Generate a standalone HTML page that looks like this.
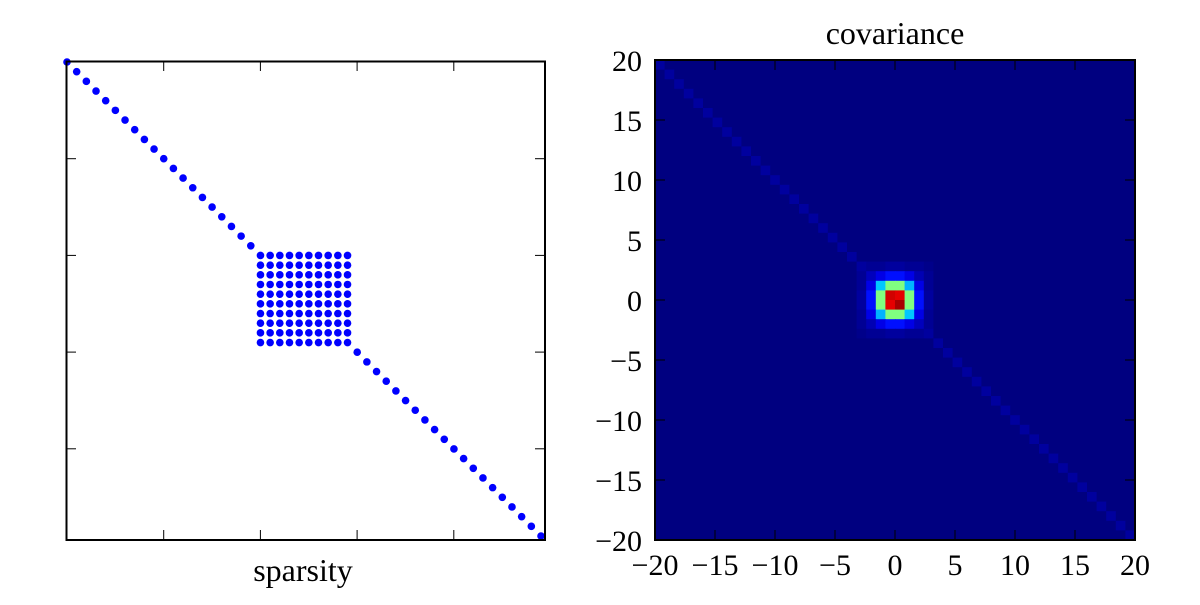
<!DOCTYPE html>
<html><head><meta charset="utf-8"><style>
body{margin:0;background:#fff;}
svg text{font-family:"Liberation Serif",serif;fill:#000;}
</style></head><body>
<svg id="fig" width="1200" height="600" xmlns="http://www.w3.org/2000/svg">
<g id="left"></g>
<g id="right"></g>
<text x="303" y="581" font-size="32" text-anchor="middle">sparsity</text>
<text x="895" y="44" font-size="32" text-anchor="middle">covariance</text>
</svg>
<script>
const N = 50;
const blockStart = 20, blockEnd = 29;
const centerStart = 21;
const centerVals = [
 [0.03,0.02,0.02,0.03,0.03,0.02,0.02,0.01],
 [0.02,0.06,0.10,0.14,0.14,0.10,0.05,0.02],
 [0.02,0.10,0.32,0.50,0.50,0.30,0.10,0.02],
 [0.03,0.14,0.50,0.92,0.90,0.50,0.14,0.03],
 [0.03,0.14,0.50,0.90,0.96,0.50,0.14,0.03],
 [0.02,0.10,0.30,0.50,0.50,0.32,0.10,0.02],
 [0.02,0.05,0.10,0.14,0.14,0.10,0.06,0.02],
 [0.01,0.02,0.02,0.03,0.03,0.02,0.02,0.03]];
const diagVal = 0.03;
const tickVals = [-20,-15,-10,-5,0,5,10,15,20];
const NS = 'http://www.w3.org/2000/svg';
function mk(t, a, p){const e=document.createElementNS(NS,t);for(const k in a)e.setAttribute(k,a[k]);p.appendChild(e);return e;}
function jet(x){
  const c=v=>Math.round(255*Math.max(0,Math.min(1,v)));
  const r=Math.min(4*x-1.5,-4*x+4.5), g=Math.min(4*x-0.5,-4*x+3.5), b=Math.min(4*x+0.5,-4*x+2.5);
  return `rgb(${c(r)},${c(g)},${c(b)})`;
}
const L = document.getElementById('left');
const lx0=66.5, ly0=61.5, lw=478.5;
const ls = 474/49;
const lpx = i => 67 + i*ls, lpy = i => 62 + i*ls;
for(let i=0;i<N;i++){for(let j=0;j<N;j++){
  const inBlock = i>=blockStart&&i<=blockEnd&&j>=blockStart&&j<=blockEnd;
  if(i===j||inBlock){
    const d=mk('circle',{cx:lpx(j),cy:lpy(i),r:3.8,fill:'#0000ff'},L);
    
    
  }
}}
for(let k=1;k<5;k++){
  const p=67+k*96.7, q=62+k*96.7;
  mk('line',{x1:p,y1:540,x2:p,y2:530,stroke:'#000','stroke-width':1},L);
  mk('line',{x1:p,y1:61,x2:p,y2:71,stroke:'#000','stroke-width':1},L);
  mk('line',{x1:66,y1:q,x2:76,y2:q,stroke:'#000','stroke-width':1},L);
  mk('line',{x1:545,y1:q,x2:535,y2:q,stroke:'#000','stroke-width':1},L);
}
const lb=mk('rect',{x:lx0,y:ly0,width:lw,height:lw,fill:'none',stroke:'#000','stroke-width':2},L);


const R = document.getElementById('right');
const rx0=655, ry0=60, rw=480, cs=rw/N;
const sx = v => rx0 + (v+20)/40*rw, sy = v => ry0 + (20-v)/40*rw;
for(let i=0;i<N;i++){for(let j=0;j<N;j++){
  let v = (i===j)?diagVal:0;
  const a=i-centerStart,b=j-centerStart;
  if(a>=0&&a<8&&b>=0&&b<8) v=centerVals[a][b];
  const c=mk('rect',{x:rx0+j*cs,y:ry0+i*cs,width:cs+0.5,height:cs+0.5,fill:jet(v)},R);
  
  
}}
tickVals.forEach(t=>{
  const x=sx(t), y=sy(t);
  if(t>-20&&t<20){
    mk('line',{x1:x,y1:540,x2:x,y2:530,stroke:'#000','stroke-width':1},R);
    mk('line',{x1:x,y1:60,x2:x,y2:70,stroke:'#000','stroke-width':1},R);
    mk('line',{x1:655,y1:y,x2:665,y2:y,stroke:'#000','stroke-width':1},R);
    mk('line',{x1:1135,y1:y,x2:1125,y2:y,stroke:'#000','stroke-width':1},R);
  }
  const lab=t<0?'\u2212'+(-t):String(t);
  const tx=mk('text',{x:x,y:575,'font-size':30,'text-anchor':'middle'},R);
  tx.textContent=lab;
  
  
  const ty=mk('text',{x:642,y:y+11,'font-size':30,'text-anchor':'end'},R);
  ty.textContent=lab;
  
  
});
const rb=mk('rect',{x:rx0,y:ry0,width:rw,height:rw,fill:'none',stroke:'#000','stroke-width':2},R);


</script>
</body></html>
